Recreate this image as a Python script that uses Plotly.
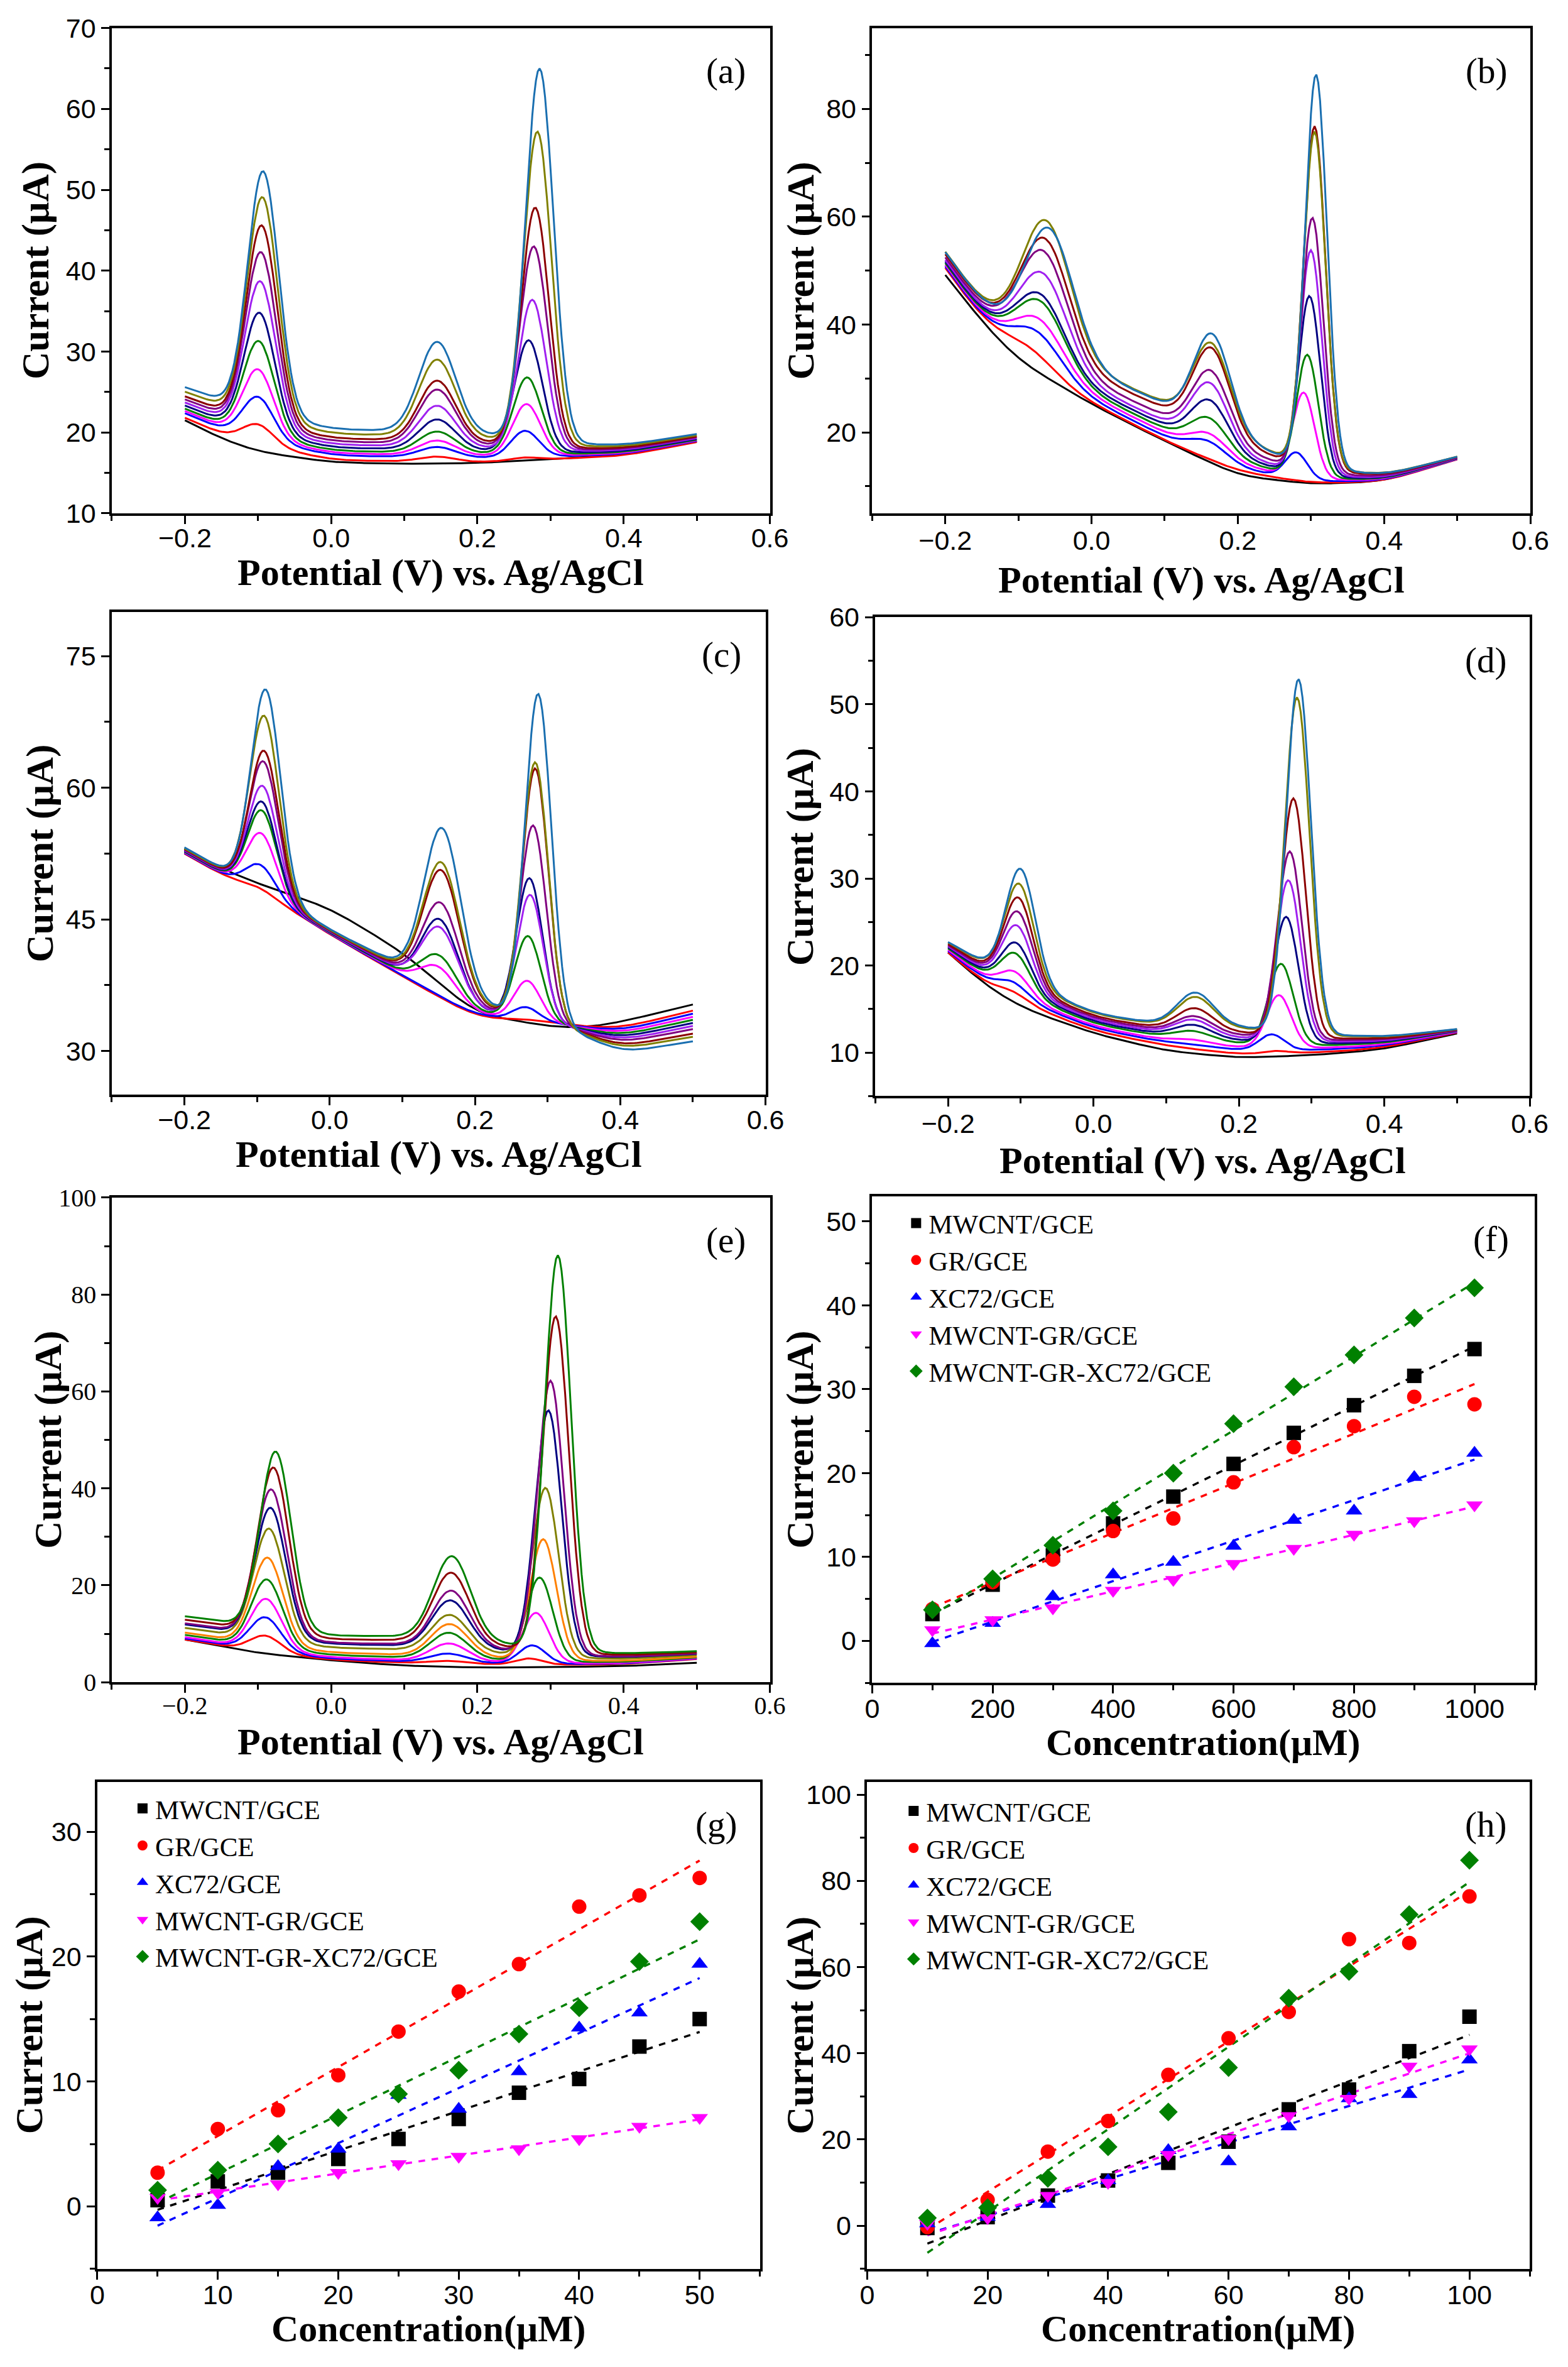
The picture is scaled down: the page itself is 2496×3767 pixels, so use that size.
import numpy as np
import plotly.graph_objects as go

W, H = 2496, 3767

# ---------------- DPV data (panels a-e) ----------------
# colored curves order: red, blue, magenta, green, navy, violet, purple, darkred, olive, teal
COLORS_AD = ["#ff0000", "#0000ff", "#ff00ff", "#008000", "#000080", "#a020f0", "#800080", "#8b0000", "#808000", "#1a6fb0"]
COLORS_E = ["#ff0000", "#0000ff", "#ff00ff", "#008000", "#ff8000", "#808000", "#000080", "#800080", "#8b0000", "#008000"]

KN_A = [-0.2, -0.15, -0.1, 0, 0.1, 0.2, 0.3, 0.4, 0.5]
A_BLACK = [21.5, 19.2, 17.6, 16.3, 16.1, 16.2, 16.7, 17.2, 18.9]
A_BASE = [21.8, 19.8, 18.6, 16.6, 16.4, 16.3, 16.7, 17.1, 18.8]
A_SPREAD = [3.8, 4.2, 4.0, 3.8, 3.8, 3.6, 2.0, 1.3, 1.0]
A_SCALE = [0, .15, .22, .3, .4, .5, .6, .7, .85, 1]
A_P1H = [21.0, 24.4, 27.8, 31.3, 34.8, 38.7, 42.3, 45.6, 49.1, 52.3]
A_P1X = [-0.1, -0.1, -0.1, -0.099, -0.098, -0.097, -0.096, -0.095, -0.094, -0.093]
A_P2H = [17.0, 18.2, 19.0, 20.1, 21.6, 23.3, 25.3, 26.4, 29.0, 31.2]
A_P2X = [0.145] * 10
A_P3H = [16.9, 20.2, 23.5, 26.8, 31.4, 36.4, 43.0, 47.8, 57.2, 65.0]
A_P3X = [0.265, 0.265, 0.267, 0.268, 0.27, 0.275, 0.277, 0.279, 0.282, 0.285]
A_SIG = [0.021, 0.025, 0.019]

KN_B = [-0.2, -0.15, -0.1, 0, 0.1, 0.2, 0.3, 0.4, 0.5]
B_BLACK = [49.2, 40.5, 33.3, 25.2, 18.4, 12.0, 10.4, 10.9, 15.3]
B_BASE = [50.5, 41.0, 34.0, 25.5, 18.5, 12.8, 10.6, 10.9, 15.0]
B_SPREAD = [3.0, 3.0, 4.0, 6.0, 7.0, 6.0, 3.0, 1.2, 0.5]
B_SCALE = [0, .1, .2, .3, .4, .5, .65, .85, 1.0, 0.97]
B_P1H = [35.8, 38.8, 41.1, 44.4, 45.7, 49.6, 53.7, 56.0, 59.3, 57.9]
B_P1X = [-0.085, -0.075, -0.072, -0.07, -0.07, -0.067, -0.066, -0.064, -0.062, -0.058]
B_P2H = [15.0, 18.4, 19.8, 22.7, 26.0, 29.2, 31.5, 35.7, 36.6, 38.3]
B_P2X = [0.16, 0.16, 0.161, 0.161, 0.162, 0.162, 0.163, 0.164, 0.164, 0.165]
B_P3H = [10.6, 16.3, 27.4, 34.4, 45.3, 53.8, 59.8, 76.8, 75.8, 86.4]
B_P3X = [0.28, 0.28, 0.29, 0.295, 0.298, 0.3, 0.302, 0.305, 0.305, 0.307]
B_SIG = [0.033, 0.025, 0.015]

KN_C = [-0.2, -0.15, -0.1, 0, 0.1, 0.2, 0.3, 0.35, 0.4, 0.5]
C_BLACK = [53.0, 50.8, 49.1, 46.3, 41.3, 34.3, 32.8, 32.6, 33.3, 35.3]
C_BASE = [52.5, 50.1, 48.5, 43.3, 38.5, 33.9, 33.3, 32.8, 32.6, 34.6]
C_SPREAD = [0.7, 0.7, 0.6, 0.5, 1.2, 1.5, 0, -1.0, -2.8, -3.5]
C_SCALE = [0, .1, .2, .3, .4, .5, .6, .75, .85, 1]
C_P1H = [48.5, 51.2, 54.8, 57.4, 58.4, 60.2, 63.0, 64.2, 68.2, 71.2]
C_P1X = [-0.095, -0.095, -0.094, -0.093, -0.093, -0.092, -0.091, -0.09, -0.09, -0.088]
C_P2H = [35.5, 36.3, 39.6, 40.9, 45.0, 44.1, 46.9, 50.6, 51.5, 55.4]
C_P2X = [0.15, 0.15, 0.15, 0.151, 0.152, 0.152, 0.153, 0.154, 0.154, 0.155]
C_P3H = [33.6, 35.0, 38.0, 43.1, 49.7, 47.8, 55.7, 62.2, 62.9, 70.7]
C_P3X = [0.27, 0.27, 0.272, 0.273, 0.275, 0.276, 0.28, 0.283, 0.283, 0.287]
C_SIG = [0.02, 0.025, 0.018]

KN_D = [-0.2, -0.15, -0.1, 0, 0.1, 0.2, 0.3, 0.35, 0.4, 0.5]
D_BLACK = [21.5, 17.8, 15.2, 12.2, 10.2, 9.4, 9.7, 10.0, 10.4, 12.2]
D_BASE = [21.5, 18.0, 15.8, 12.5, 10.8, 9.8, 10.0, 10.2, 10.6, 12.3]
D_SPREAD = [1.2, 2.3, 2.6, 2.0, 2.4, 3.2, 2.0, 1.8, 1.2, 0.4]
D_SCALE = [0, .15, .25, .4, .5, .6, .7, .8, .95, 1]
D_P1H = [17.0, 18.1, 19.3, 21.4, 22.6, 24.6, 26.2, 27.8, 29.4, 31.1]
D_P1X = [-0.11, -0.11, -0.108, -0.107, -0.106, -0.105, -0.104, -0.103, -0.102, -0.1]
D_P2H = [10.2, 11.0, 11.5, 12.5, 13.2, 13.8, 14.2, 15.1, 16.4, 16.9]
D_P2X = [0.135, 0.135, 0.136, 0.136, 0.137, 0.137, 0.138, 0.139, 0.14, 0.14]
D_P3H = [10.2, 12.1, 16.6, 20.2, 25.6, 29.8, 33.1, 39.2, 50.8, 52.9]
D_P3X = [0.25, 0.245, 0.255, 0.258, 0.265, 0.268, 0.27, 0.275, 0.28, 0.282]
D_SIG = [0.02, 0.025, 0.017]

KN_E = [-0.2, -0.15, -0.1, 0, 0.1, 0.2, 0.3, 0.4, 0.5]
E_BLACK = [8.8, 7.4, 6.0, 4.5, 3.4, 3.0, 3.1, 3.3, 4.0]
E_BASE = [8.8, 7.6, 6.4, 4.6, 4.0, 3.7, 3.6, 3.7, 4.8]
E_SPREAD = [4.8, 5.0, 5.0, 5.0, 5.5, 5.0, 3.0, 2.2, 1.6]
E_SCALE = [0, .05, .1, .2, .3, .5, .65, .7, .85, 1]
E_P1H = [9.6, 13.4, 17.2, 21.2, 25.7, 31.7, 36.0, 39.8, 44.3, 47.6]
E_P1X = [-0.09, -0.09, -0.089, -0.088, -0.087, -0.085, -0.083, -0.082, -0.079, -0.076]
E_P2H = [4.4, 5.9, 8.0, 10.2, 12.0, 13.9, 16.9, 18.9, 22.6, 26.0]
E_P2X = [0.16, 0.16, 0.161, 0.161, 0.162, 0.162, 0.163, 0.164, 0.164, 0.165]
E_P3H = [4.9, 7.6, 14.3, 21.6, 29.5, 40.1, 56.1, 62.2, 75.5, 88.1]
E_P3X = [0.27, 0.275, 0.28, 0.285, 0.29, 0.293, 0.297, 0.3, 0.307, 0.31]
E_SIG = [0.021, 0.025, 0.018]

# ---------------- calibration data (panels f-h) ----------------
LEG_NAMES = ["MWCNT/GCE", "GR/GCE", "XC72/GCE", "MWCNT-GR/GCE", "MWCNT-GR-XC72/GCE"]
LEG_COLORS = ["#000000", "#ff0000", "#0000ff", "#ff00ff", "#008000"]
LEG_SYMBOLS = ["square", "circle", "triangle-up", "triangle-down", "diamond"]

F_X = [100, 200, 300, 400, 500, 600, 700, 800, 900, 1000]
F_Y = [
    [3.2, 6.7, 10.2, 14.0, 17.2, 21.1, 24.8, 28.1, 31.6, 34.8],
    [3.8, 7.0, 9.7, 13.1, 14.6, 18.9, 23.1, 25.6, 29.1, 28.2],
    [-0.3, 2.1, 5.3, 7.9, 9.4, 11.3, 14.4, 15.5, 19.5, 22.4],
    [1.3, 2.5, 3.9, 6.0, 7.3, 9.2, 11.0, 12.7, 14.3, 16.2],
    [3.7, 7.4, 11.4, 15.5, 20.0, 25.9, 30.3, 34.1, 38.5, 42.1],
]
G_X = [5, 10, 15, 20, 25, 30, 35, 40, 45, 50]
G_Y = [
    [0.5, 2.0, 2.7, 3.8, 5.4, 7.0, 9.1, 10.2, 12.8, 15.0],
    [2.7, 6.2, 7.7, 10.5, 14.0, 17.2, 19.4, 24.0, 24.9, 26.3],
    [-0.9, 0.1, 3.2, 4.6, 8.9, 7.8, 10.8, 14.3, 15.5, 19.4],
    [0.7, 1.1, 1.8, 2.7, 3.4, 4.0, 4.6, 5.4, 6.4, 7.1],
    [1.3, 2.9, 5.0, 7.1, 9.0, 10.9, 13.8, 15.9, 19.6, 22.8],
]
H_X = [10, 20, 30, 40, 50, 60, 70, 80, 90, 100]
H_Y = [
    [-0.5, 2.0, 7.0, 10.5, 14.6, 19.5, 27.0, 31.6, 40.5, 48.5],
    [-0.3, 6.0, 17.2, 24.3, 35.0, 43.5, 49.6, 66.5, 65.6, 76.4],
    [0.5, 2.0, 5.0, 10.5, 17.5, 14.9, 23.0, 29.5, 30.5, 38.5],
    [0.5, 1.8, 7.0, 10.0, 16.5, 20.2, 25.5, 29.5, 37.0, 41.0],
    [1.8, 4.2, 11.0, 18.3, 26.4, 36.7, 52.8, 59.0, 72.2, 84.8],
]

# ---------------- layout geometry (pixels) ----------------
BOXES = {  # x0, x1, y0(top), y1(bottom)
    "a": (174, 1223, 45, 815), "b": (1386, 2435, 45, 815),
    "c": (174, 1216, 972, 1738), "d": (1391, 2434, 980, 1740),
    "e": (174, 1223, 1901, 2670), "f": (1386, 2442, 1899, 2671),
    "g": (151, 1207, 2828, 3601), "h": (1378, 2434, 2828, 3601),
}
SERIF = "Liberation Serif"
SANS = "Liberation Sans Narrow, Liberation Sans, Arial"
K = 1.0158  # compensation for the page capture scaling


def px_x(v):
    return (K * v - 16.1) / W


def px_y(v):
    return 1 - (K * v - 32.9) / H


fig = go.Figure()
annotations = []

E_GRID = np.arange(-0.2, 0.5001, 0.0025)


def smooth_interp(kn, vals):
    y = np.interp(E_GRID, kn, vals)
    half = 10
    k = np.exp(-0.5 * (np.arange(-half * 2, half * 2 + 1) / half) ** 2)
    k /= k.sum()
    pad = len(k) // 2
    yp = np.concatenate([2 * y[0] - y[pad:0:-1], y, 2 * y[-1] - y[-2:-pad - 2:-1]])
    return np.convolve(yp, k, mode="valid")


def dpv_traces(axn, kn, black, base, spread, scale, peaks, sig, colors):
    xr, yr = "x" + axn, "y" + axn
    fig.add_trace(go.Scatter(x=E_GRID, y=smooth_interp(kn, black), mode="lines",
                             line=dict(color="black", width=3), xaxis=xr, yaxis=yr, showlegend=False))
    bs = smooth_interp(kn, base)
    ss = smooth_interp(kn, spread)
    for k, col in enumerate(colors):
        b = bs + scale[k] * ss
        y = b.copy()
        for (hs, xs), s in zip(peaks, sig):
            p = xs[k]
            b0 = np.interp(p, E_GRID, b)
            amp = max(0.0, hs[k] - b0)
            y = y + amp * np.exp(-0.5 * ((E_GRID - p) / s) ** 2)
        fig.add_trace(go.Scatter(x=E_GRID, y=y, mode="lines", line=dict(color=col, width=3),
                                 xaxis=xr, yaxis=yr, showlegend=False))


def calib_traces(axn, xs, ys, legname):
    xr, yr = "x" + axn, "y" + axn
    for k in range(5):
        sl, ic = np.polyfit(xs, ys[k], 1)
        fx = np.array([xs[0], xs[-1]])
        fig.add_trace(go.Scatter(x=fx, y=sl * fx + ic, mode="lines",
                                 line=dict(color=LEG_COLORS[k], width=3.5, dash="dash"),
                                 xaxis=xr, yaxis=yr, showlegend=False))
    for k in range(5):
        fig.add_trace(go.Scatter(x=xs, y=ys[k], mode="markers", name=LEG_NAMES[k],
                                 marker=dict(color=LEG_COLORS[k], symbol=LEG_SYMBOLS[k], size=23),
                                 xaxis=xr, yaxis=yr, legend=legname))


dpv_traces("", KN_A, A_BLACK, A_BASE, A_SPREAD, A_SCALE,
           [(A_P1H, A_P1X), (A_P2H, A_P2X), (A_P3H, A_P3X)], A_SIG, COLORS_AD)
dpv_traces("2", KN_B, B_BLACK, B_BASE, B_SPREAD, B_SCALE,
           [(B_P1H, B_P1X), (B_P2H, B_P2X), (B_P3H, B_P3X)], B_SIG, COLORS_AD)
dpv_traces("3", KN_C, C_BLACK, C_BASE, C_SPREAD, C_SCALE,
           [(C_P1H, C_P1X), (C_P2H, C_P2X), (C_P3H, C_P3X)], C_SIG, COLORS_AD)
dpv_traces("4", KN_D, D_BLACK, D_BASE, D_SPREAD, D_SCALE,
           [(D_P1H, D_P1X), (D_P2H, D_P2X), (D_P3H, D_P3X)], D_SIG, COLORS_AD)
dpv_traces("5", KN_E, E_BLACK, E_BASE, E_SPREAD, E_SCALE,
           [(E_P1H, E_P1X), (E_P2H, E_P2X), (E_P3H, E_P3X)], E_SIG, COLORS_E)
calib_traces("6", F_X, F_Y, "legend")
calib_traces("7", G_X, G_Y, "legend2")
calib_traces("8", H_X, H_Y, "legend3")

X_POT = "Potential (V) vs. Ag/AgCl"
X_CON = "Concentration(μM)"
# key, axis, xrange, xdtick, xminor, yrange, ytick0, ydtick, yminor, xtitle, tickfont, ticksize, labelstandoff, xtitle offset, ytitle offset
SPECS = [
    ("a", "", [-0.3, 0.6], 0.2, 0.1, [10, 70], 10, 10, 5, X_POT, SANS, 43, -14, 94, -121),
    ("b", "2", [-0.3, 0.6], 0.2, 0.1, [5, 95], 0, 20, 10, X_POT, SANS, 43, -10, 106, -114),
    ("c", "3", [-0.3, 0.6], 0.2, 0.1, [25, 80], 0, 15, 7.5, X_POT, SANS, 43, -14, 94, -114),
    ("d", "4", [-0.3, 0.6], 0.2, 0.1, [5, 60], 0, 10, 5, X_POT, SANS, 43, -10, 102, -119),
    ("e", "5", [-0.3, 0.6], 0.2, 0.1, [0, 100], 0, 20, 10, X_POT, SERIF, 40, -14, 95, -102),
    ("f", "6", [0, 1100], 200, 100, [-5, 53], 0, 10, 5, X_CON, SANS, 43, -12, 95, -114),
    ("g", "7", [0, 55], 10, 5, [-5, 34], 0, 10, 5, X_CON, SANS, 43, -12, 95, -108),
    ("h", "8", [0, 110], 20, 10, [-10, 103], 0, 20, 10, X_CON, SANS, 43, -12, 95, -106),
]
lay = {}
for key, n, xr, xd, xm, yr, y0, yd, ym, xt, tf, ts, tso, xto, yto in SPECS:
    x0, x1, t, b = BOXES[key]
    ax_common = dict(showgrid=False, zeroline=False, showline=True, linecolor="black", linewidth=3.5,
                     mirror=True, ticks="outside", ticklen=13, tickwidth=3, tickcolor="black",
                     tickfont=dict(family=tf, size=ts, color="black"))
    xa = dict(ax_common, domain=[px_x(x0), px_x(x1)], range=xr, tick0=0, dtick=xd,
              minor=dict(dtick=xm, ticks="outside", ticklen=8, tickwidth=2.5, tickcolor="black"),
              anchor="y" + n, ticklabelstandoff=tso)
    ya = dict(ax_common, domain=[px_y(b), px_y(t)], range=yr, tick0=y0, dtick=yd,
              minor=dict(dtick=ym, ticks="outside", ticklen=8, tickwidth=2.5, tickcolor="black"),
              anchor="x" + n)
    if key in "abcde":
        xa["tickformat"] = ".1f"
    lay["xaxis" + n] = xa
    lay["yaxis" + n] = ya
    annotations.append(dict(text="<b>" + xt + "</b>", xref="paper", yref="paper",
                            x=px_x((x0 + x1) / 2), y=px_y(b + xto), showarrow=False,
                            xanchor="center", yanchor="middle",
                            font=dict(family=SERIF, size=60, color="black")))
    annotations.append(dict(text="<b>Current (μA)</b>", xref="paper", yref="paper", textangle=-90,
                            x=px_x(x0 + yto), y=px_y((t + b) / 2), showarrow=False,
                            xanchor="center", yanchor="middle",
                            font=dict(family=SERIF, size=61, color="black")))
    annotations.append(dict(text="(" + key + ")", xref="paper", yref="paper",
                            x=px_x(x1 - 70), y=px_y(t + 68), showarrow=False,
                            xanchor="center", yanchor="middle",
                            font=dict(family=SERIF, size=57, color="black")))

leg_common = dict(font=dict(family=SERIF, size=43, color="black"), bgcolor="rgba(0,0,0,0)",
                  xanchor="left", yanchor="top", itemwidth=30, tracegroupgap=0)
fb, gb, hb = BOXES["f"], BOXES["g"], BOXES["h"]
lay["legend"] = dict(leg_common, x=px_x(fb[0] + 50), y=px_y(fb[2] + 8))
lay["legend2"] = dict(leg_common, x=px_x(gb[0] + 52), y=px_y(gb[2] + 8))
lay["legend3"] = dict(leg_common, x=px_x(hb[0] + 54), y=px_y(hb[2] + 12))

fig.update_layout(width=W, height=H, margin=dict(l=0, r=0, t=0, b=0), plot_bgcolor="white",
                  paper_bgcolor="white", annotations=annotations, **lay)
fig.write_html("out.html")
